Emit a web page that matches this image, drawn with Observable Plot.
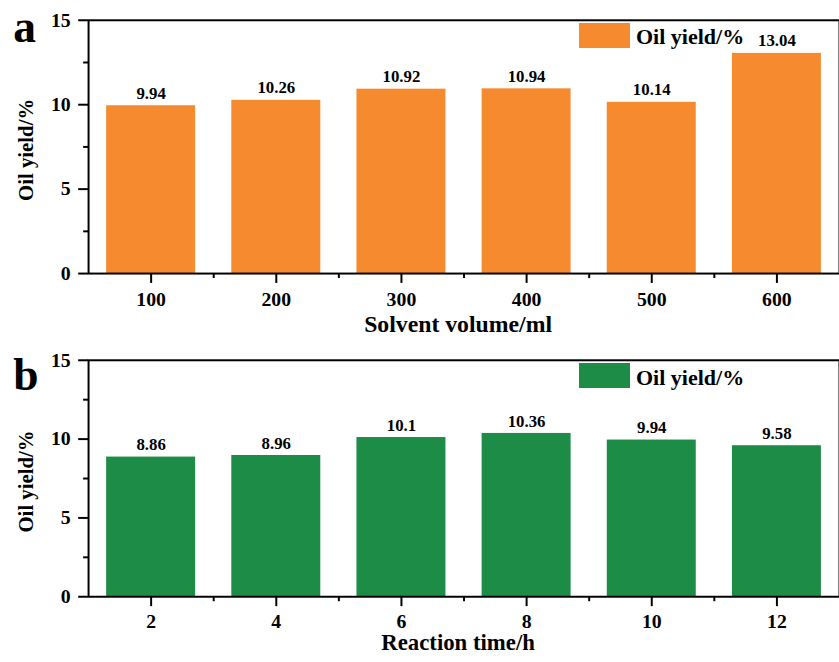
<!DOCTYPE html>
<html>
<head>
<meta charset="utf-8">
<script src="https://cdn.jsdelivr.net/npm/d3@7"></script>
<script src="https://cdn.jsdelivr.net/npm/@observablehq/plot@0.6"></script>
<style>
  html, body { margin: 0; padding: 0; background: #fff; }
  #wrap { position: relative; width: 839px; height: 662px; overflow: hidden; background: #fff; }
  .panel { position: absolute; left: 0; }
  .legend { position: absolute; font-family: "Liberation Serif", Tinos, "Times New Roman", Times, "DejaVu Serif", serif; font-weight: bold; font-size: 22px; line-height: 22px; color: #000; white-space: nowrap; }
  .swatch { position: absolute; }
  svg text { font-family: "Liberation Serif", Tinos, "Times New Roman", Times, "DejaVu Serif", serif !important; }
</style>
</head>
<body>
<div id="wrap"></div>
<script>
// ---- data ----
const solventVolume = [100, 200, 300, 400, 500, 600];
const yieldBySolvent = [9.94, 10.26, 10.92, 10.94, 10.14, 13.04];
const reactionTime = [2, 4, 6, 8, 10, 12];
const yieldByTime = [8.86, 8.96, 10.1, 10.36, 9.94, 9.58];
const yTicks = [0, 5, 10, 15];
const yMinorTicks = [2.5, 7.5, 12.5];
const xMinorTicksA = [150, 250, 350, 450, 550];
const xMinorTicksB = [3, 5, 7, 9, 11];
const yTitle = "Oil yield/%";
const legendLabel = "Oil yield/%";
const xTitleA = "Solvent volume/ml";
const xTitleB = "Reaction time/h";

const ORANGE = "#f58a2f";
const GREEN = "#1d8c46";
const FONT = '"Liberation Serif", Tinos, "Times New Roman", Times, "DejaVu Serif", serif';

function panel({xs, ys, color, domain, step, xMinor, letter, letterDy, xTitle, xTitleDy, xTitleSize, tickPad, height, marginBottom}) {
  const data = xs.map((x, i) => ({x, y: ys[i]}));
  const half = step * 0.711 / 2;
  return Plot.plot({
    width: 848,
    height,
    marginTop: 20,
    marginLeft: 89,
    marginRight: 0,
    marginBottom,
    x: {domain},
    y: {domain: [0, 15]},
    style: {fontFamily: FONT, fontWeight: "bold", fontSize: "20px", color: "#000", background: "transparent", overflow: "visible"},
    marks: [
      Plot.rect(data, {x1: d => d.x - half, x2: d => d.x + half, y1: 0, y2: "y", fill: color}),
      Plot.text(data, {x: "x", y: "y", text: d => String(d.y), dy: -7, lineAnchor: "bottom", fontSize: 17, fill: "#000"}),
      Plot.axisX(xs, {tickSize: 10, tickPadding: tickPad, strokeWidth: 2, fontSize: 20, label: null}),
      Plot.axisX(xMinor, {tickSize: 5, tickFormat: () => "", strokeWidth: 2, label: null}),
      Plot.axisY(yTicks, {tickSize: 10, tickPadding: 8, strokeWidth: 2, fontSize: 20, label: null}),
      Plot.axisY(yMinorTicks, {tickSize: 5, tickFormat: () => "", strokeWidth: 2, label: null}),
      Plot.frame({stroke: "#000", strokeWidth: 2}),
      Plot.text([letter], {frameAnchor: "top-left", dx: -76, dy: letterDy, textAnchor: "start", lineAnchor: "bottom", fontSize: 46, fill: "#000"}),
      Plot.text([yTitle], {frameAnchor: "left", rotate: -90, dx: -56, dy: 3, textAnchor: "middle", lineAnchor: "bottom", fontSize: 21, fill: "#000"}),
      Plot.text([xTitle], {frameAnchor: "bottom", dx: -6, dy: xTitleDy, lineAnchor: "bottom", fontSize: xTitleSize, fill: "#000"})
    ]
  });
}

const wrap = document.getElementById("wrap");

const a = panel({xs: solventVolume, ys: yieldBySolvent, color: ORANGE, domain: [50, 650], step: 100,
  xMinor: xMinorTicksA, letter: "a", letterDy: 22, xTitle: xTitleA, xTitleDy: 59, xTitleSize: 24, tickPad: 9,
  height: 345, marginBottom: 69});
a.classList.add("panel");
a.style.top = "0px";
wrap.appendChild(a);

const b = panel({xs: reactionTime, ys: yieldByTime, color: GREEN, domain: [1, 13], step: 2,
  xMinor: xMinorTicksB, letter: "b", letterDy: 30, xTitle: xTitleB, xTitleDy: 54, xTitleSize: 23, tickPad: 7,
  height: 322, marginBottom: 63});
b.classList.add("panel");
b.style.top = "340px";
wrap.appendChild(b);

function legend(top, color, textTop) {
  const sw = document.createElement("div");
  sw.className = "swatch";
  Object.assign(sw.style, {left: "579px", top: top + "px", width: "51px", height: "25px", background: color});
  wrap.appendChild(sw);
  const t = document.createElement("div");
  t.className = "legend";
  t.textContent = legendLabel;
  Object.assign(t.style, {left: "636px", top: textTop + "px"});
  wrap.appendChild(t);
}
legend(23, ORANGE, 26);
legend(363, GREEN, 367);
</script>
</body>
</html>
